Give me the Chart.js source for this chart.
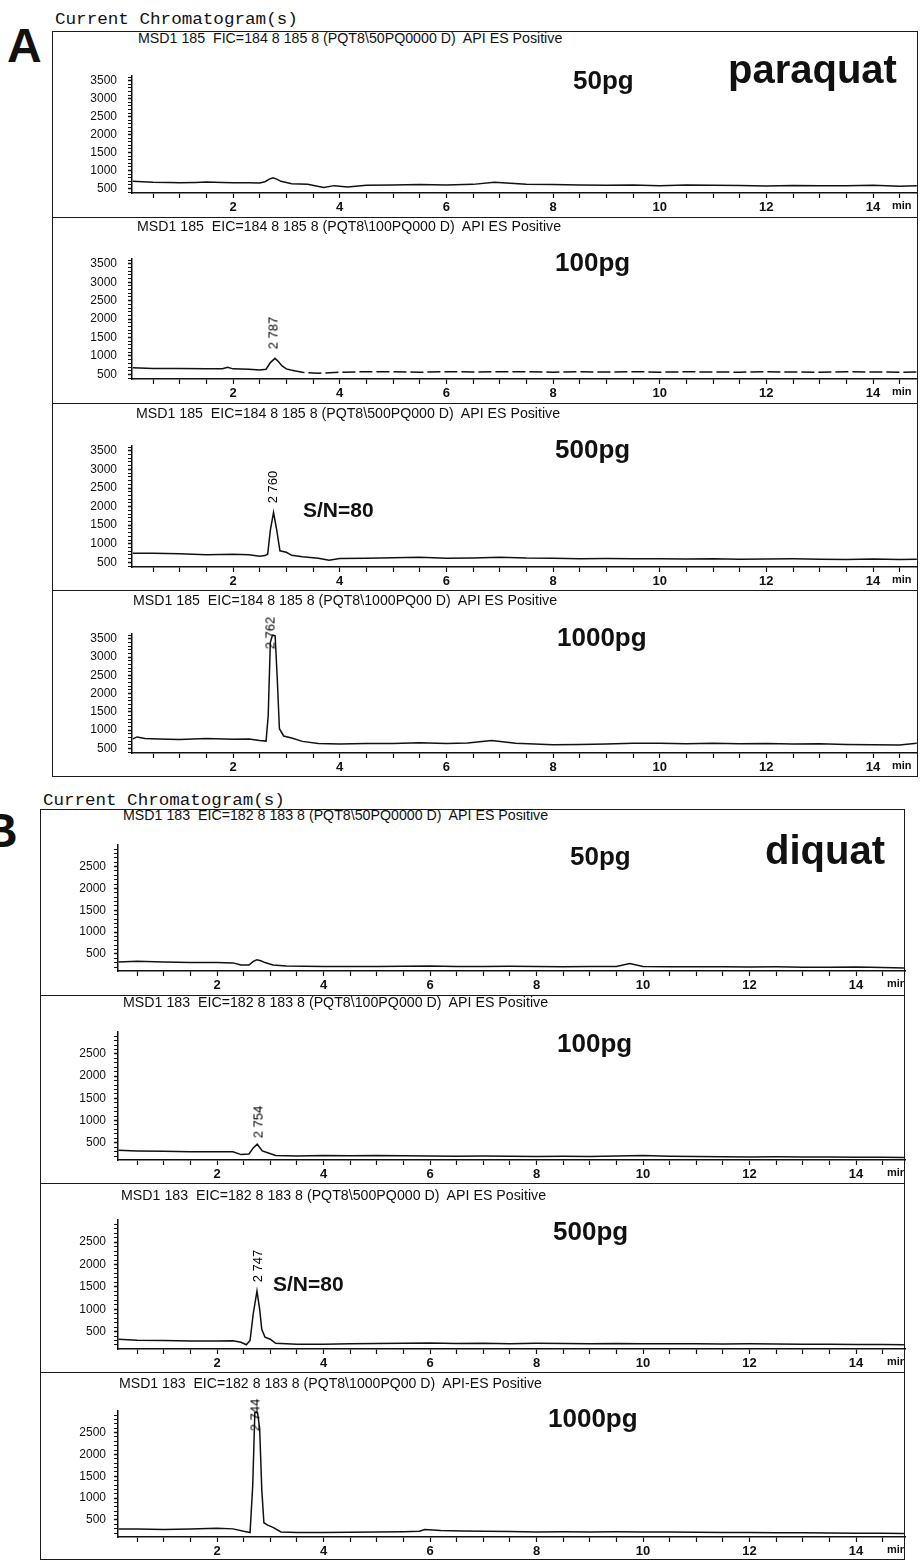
<!DOCTYPE html>
<html>
<head>
<meta charset="utf-8">
<script src="https://cdn.jsdelivr.net/npm/chart.js@4.4.0/dist/chart.umd.min.js"></script>
<style>
  html, body { margin: 0; padding: 0; background: #fff; }
  body { width: 920px; height: 1562px; position: relative; overflow: hidden; color: #111; }
  .abs { position: absolute; white-space: pre; line-height: 1; color: #111; }
  .box { position: absolute; border: 1.5px solid #1a1a1a; box-sizing: border-box; }
  .sep { position: absolute; height: 0; border-top: 1.5px solid #1a1a1a; }
  canvas { display: block; }
</style>
</head>
<body>
<script>
// tick labels
const xTickLabels = [2, 4, 6, 8, 10, 12, 14];
const yTickLabelsA = [500, 1000, 1500, 2000, 2500, 3000, 3500];
const yTickLabelsB = [500, 1000, 1500, 2000, 2500];

// A - paraquat (m/z 185), retention time in min / abundance
const timeA1 = [0.12, 0.3, 0.5, 0.8, 1.0, 1.3, 1.5, 1.8, 2.0, 2.3, 2.5, 2.6, 2.68, 2.75, 2.82, 2.9, 3.1, 3.4, 3.7, 3.9, 4.15, 4.5, 5.0, 5.5, 6.0, 6.5, 6.9, 7.5, 8.0, 8.5, 9.0, 9.5, 10.0, 10.5, 11.0, 11.5, 12.0, 12.5, 13.0, 13.5, 14.0, 14.5, 14.82];
const intA1 = [700, 690, 675, 665, 660, 670, 680, 665, 660, 660, 655, 690, 760, 800, 760, 700, 630, 620, 530, 580, 545, 590, 600, 610, 600, 615, 675, 620, 610, 600, 590, 600, 580, 595, 590, 585, 570, 585, 580, 575, 590, 560, 580];

const timeA2 = [0.12, 0.5, 1.0, 1.5, 1.8, 1.9, 2.0, 2.3, 2.5, 2.62, 2.7, 2.787, 2.85, 2.92, 3.0, 3.1, 3.3, 3.6, 4.0, 4.5, 5.0, 5.5, 6.0, 6.5, 7.0, 7.5, 8.0, 8.5, 9.0, 9.5, 10.0, 10.5, 11.0, 11.5, 12.0, 12.5, 13.0, 13.5, 14.0, 14.5, 14.82];
const intA2 = [677, 660, 660, 650, 655, 693, 650, 637, 620, 640, 820, 935, 850, 730, 650, 613, 557, 533, 557, 573, 573, 557, 573, 565, 575, 570, 560, 570, 565, 575, 560, 570, 565, 560, 570, 565, 560, 570, 565, 560, 565];

const timeA3 = [0.12, 0.5, 1.0, 1.5, 2.0, 2.3, 2.5, 2.6, 2.65, 2.7, 2.76, 2.82, 2.88, 3.0, 3.1, 3.3, 3.6, 3.8, 4.0, 4.5, 5.0, 5.5, 6.0, 6.5, 7.0, 7.5, 8.0, 8.5, 9.0, 9.5, 10.0, 10.5, 11.0, 11.5, 12.0, 12.5, 13.0, 13.5, 14.0, 14.5, 14.82];
const intA3 = [745, 745, 730, 707, 715, 707, 667, 683, 720, 1365, 1840, 1365, 810, 770, 690, 650, 610, 555, 603, 610, 627, 635, 610, 620, 640, 615, 610, 600, 605, 595, 600, 590, 600, 585, 590, 595, 585, 580, 590, 575, 585];

const timeA4 = [0.12, 0.2, 0.35, 0.6, 1.0, 1.5, 2.0, 2.3, 2.5, 2.62, 2.66, 2.7, 2.74, 2.79, 2.83, 2.87, 2.95, 3.1, 3.3, 3.6, 4.0, 4.5, 5.0, 5.5, 6.0, 6.4, 6.85, 7.3, 8.0, 8.5, 9.0, 9.5, 10.0, 10.5, 11.0, 11.5, 12.0, 12.5, 13.0, 13.5, 14.0, 14.5, 14.82];
const intA4 = [760, 815, 770, 760, 742, 773, 750, 760, 718, 700, 1400, 3400, 3600, 3580, 2400, 1040, 840, 783, 693, 637, 620, 637, 637, 656, 637, 650, 718, 640, 600, 610, 620, 640, 643, 630, 640, 625, 635, 620, 630, 610, 600, 595, 643];

// B - diquat (m/z 183)
const timeB1 = [0.15, 0.5, 1.0, 1.5, 2.0, 2.3, 2.45, 2.6, 2.68, 2.75, 2.82, 2.9, 3.05, 3.3, 4.0, 4.5, 5.0, 5.5, 6.0, 6.5, 7.0, 7.5, 8.0, 8.5, 9.0, 9.5, 9.75, 10.0, 10.5, 11.0, 11.5, 12.0, 12.5, 13.0, 13.5, 14.0, 14.5, 14.9];
const intB1 = [317, 332, 317, 303, 303, 296, 247, 247, 330, 367, 345, 303, 247, 226, 212, 215, 212, 220, 226, 215, 212, 218, 212, 208, 215, 212, 283, 212, 205, 210, 205, 200, 205, 198, 195, 200, 190, 178];

const timeB2 = [0.15, 0.5, 1.0, 1.5, 2.0, 2.3, 2.45, 2.6, 2.68, 2.754, 2.85, 2.95, 3.1, 3.5, 4.0, 4.5, 5.0, 5.5, 6.0, 6.5, 7.0, 7.5, 8.0, 8.5, 9.0, 9.5, 10.0, 10.5, 11.0, 11.5, 12.0, 12.5, 13.0, 13.5, 14.0, 14.5, 14.9];
const intB2 = [329, 315, 308, 294, 294, 294, 232, 246, 383, 466, 315, 273, 212, 198, 212, 205, 212, 205, 198, 195, 200, 192, 191, 195, 190, 200, 212, 195, 190, 185, 177, 185, 180, 175, 172, 170, 164];

const timeB3 = [0.15, 0.5, 1.0, 1.5, 2.0, 2.3, 2.45, 2.55, 2.62, 2.68, 2.75, 2.8, 2.84, 2.9, 3.0, 3.1, 3.5, 4.0, 4.5, 5.0, 5.5, 6.0, 6.5, 7.0, 7.5, 8.0, 8.5, 9.0, 9.5, 10.0, 10.5, 11.0, 11.5, 12.0, 12.5, 13.0, 13.5, 14.0, 14.5, 14.9];
const intB3 = [329, 308, 301, 288, 288, 295, 260, 205, 300, 900, 1406, 1000, 548, 376, 329, 239, 218, 218, 225, 232, 240, 246, 235, 240, 230, 239, 235, 230, 235, 225, 230, 228, 222, 225, 220, 215, 218, 210, 212, 205];

const timeB4 = [0.15, 0.5, 1.0, 1.5, 2.0, 2.3, 2.5, 2.62, 2.67, 2.71, 2.76, 2.8, 2.84, 2.88, 2.95, 3.05, 3.2, 3.5, 4.0, 4.5, 5.0, 5.5, 5.8, 5.9, 6.2, 6.6, 7.0, 7.5, 8.0, 8.5, 9.0, 9.5, 10.0, 10.5, 11.0, 11.5, 12.0, 12.5, 13.0, 13.5, 14.0, 14.5, 14.9];
const intB4 = [296, 296, 282, 296, 310, 296, 240, 212, 1280, 2960, 2960, 2600, 1200, 437, 380, 332, 226, 212, 212, 220, 226, 232, 240, 282, 261, 250, 240, 235, 226, 230, 225, 228, 222, 225, 218, 215, 212, 210, 205, 200, 198, 195, 191];

const headersA = [
  'MSD1 185  FIC=184 8 185 8 (PQT8\\50PQ0000 D)  API ES Positive',
  'MSD1 185  EIC=184 8 185 8 (PQT8\\100PQ000 D)  API ES Positive',
  'MSD1 185  EIC=184 8 185 8 (PQT8\\500PQ000 D)  API ES Positive',
  'MSD1 185  EIC=184 8 185 8 (PQT8\\1000PQ00 D)  API ES Positive'
];
const headersB = [
  'MSD1 183  EIC=182 8 183 8 (PQT8\\50PQ0000 D)  API ES Positive',
  'MSD1 183  EIC=182 8 183 8 (PQT8\\100PQ000 D)  API ES Positive',
  'MSD1 183  EIC=182 8 183 8 (PQT8\\500PQ000 D)  API ES Positive',
  'MSD1 183  EIC=182 8 183 8 (PQT8\\1000PQ00 D)  API-ES Positive'
];
const amounts = ['50pg', '100pg', '500pg', '1000pg'];

// layout (page pixels)
const SANS = "'Liberation Sans', Arial, sans-serif";
const MONO = "'Liberation Mono', 'Courier New', monospace";
const AXIS_W = 50, AXIS_H = 30, PAD_T = 4, PAD_R = 4;

const sections = {
  A: { xMin: 0.106, xMax: 14.825, yMin: 375, yMax: 3625, yLabels: yTickLabelsA, yPad: 11,
       box: [52, 31, 918, 777], seps: [217, 403, 590], minX: 892 },
  B: { xMin: 0.14, xMax: 14.92, yMin: 110, yMax: 2990, yLabels: yTickLabelsB, yPad: 8,
       box: [40, 809, 905, 1560], seps: [995, 1183, 1372], minX: 887 }
};

const panels = [
  { sec: 'A', t: timeA1, v: intA1, plot: [132, 62, 917, 193], head: [138, 38, 424], amt: [573, 89], rt: null },
  { sec: 'A', t: timeA2, v: intA2, plot: [132, 245, 917, 379], head: [137, 226, 424], amt: [555, 271], rt: ['2 787', 273, 333], dash: true },
  { sec: 'A', t: timeA3, v: intA3, plot: [132, 432, 917, 567], head: [136, 413, 424], amt: [555, 458], rt: ['2 760', 272, 487] },
  { sec: 'A', t: timeA4, v: intA4, plot: [132, 620, 917, 753], head: [133, 600, 424], amt: [557, 646], rt: ['2 762', 270, 633] },
  { sec: 'B', t: timeB1, v: intB1, plot: [118, 834, 905, 971], head: [123, 815, 425], amt: [570, 865], rt: null },
  { sec: 'B', t: timeB2, v: intB2, plot: [118, 1021, 905, 1160], head: [123, 1002, 425], amt: [557, 1052], rt: ['2 754', 258, 1122] },
  { sec: 'B', t: timeB3, v: intB3, plot: [118, 1209, 905, 1349], head: [121, 1195, 425], amt: [553, 1240], rt: ['2 747', 257, 1266] },
  { sec: 'B', t: timeB4, v: intB4, plot: [118, 1400, 905, 1537], head: [119, 1383, 423], amt: [548, 1427], rt: ['2 744', 255, 1415] }
];

function addText(txt, o) {
  const el = document.createElement('div');
  el.className = 'abs';
  el.textContent = txt;
  const fam = o.family || SANS;
  el.style.font = `${o.weight || 'normal'} ${o.size}px ${fam}`;
  el.style.lineHeight = '1';
  document.body.appendChild(el);
  const w = el.offsetWidth;
  const baseOff = fam === MONO ? 0.7665 : 0.8465;
  el.style.left = o.x + 'px';
  el.style.top = (o.base - baseOff * o.size) + 'px';
  el.style.transformOrigin = '0 0';
  if (o.width) el.style.transform = `scaleX(${o.width / w})`;
  if (o.clip) { el.style.width = o.clip + 'px'; el.style.overflow = 'hidden'; }
  return el;
}

function addVert(txt, cx, cy, size) {
  const el = document.createElement('div');
  el.className = 'abs';
  el.textContent = txt;
  el.style.font = `normal ${size}px ${SANS}`;
  el.style.color = '#000';
  el.style.left = cx + 'px';
  el.style.top = cy + 'px';
  el.style.transform = 'translate(-50%,-50%) rotate(-90deg)';
  document.body.appendChild(el);
}

function addDiv(cls, css) {
  const d = document.createElement('div');
  d.className = cls;
  d.style.cssText = css;
  document.body.appendChild(d);
}

// section frames
Object.values(sections).forEach(s => {
  const [l, t, r, b] = s.box;
  addDiv('box', `left:${l}px;top:${t}px;width:${r - l}px;height:${b - t}px;`);
  s.seps.forEach(y => addDiv('sep', `left:${l}px;top:${y}px;width:${r - l}px;`));
});

function makeChart(p) {
  const s = sections[p.sec];
  const [l, t, r, b] = p.plot;
  const W = AXIS_W + (r - l) + PAD_R;
  const H = PAD_T + (b - t) + AXIS_H;
  const wrap = document.createElement('div');
  wrap.style.cssText = `position:absolute;left:${l - AXIS_W}px;top:${t - PAD_T}px;width:${W}px;height:${H}px;`;
  const canvas = document.createElement('canvas');
  canvas.width = W;
  canvas.height = H;
  wrap.appendChild(canvas);
  document.body.appendChild(wrap);

  new Chart(canvas, {
    type: 'line',
    data: {
      datasets: [{
        data: p.t.map((x, i) => ({ x, y: p.v[i] })),
        borderColor: '#111',
        borderWidth: 1.5,
        pointRadius: 0,
        tension: 0,
        fill: false,
        segment: p.dash ? { borderDash: c => c.p0.parsed.x > 3.05 ? [13, 4] : undefined } : undefined
      }]
    },
    options: {
      responsive: false,
      animation: false,
      events: [],
      layout: { padding: { top: PAD_T, right: PAD_R, left: 0, bottom: 0 } },
      plugins: { legend: { display: false }, tooltip: { enabled: false } },
      scales: {
        x: {
          type: 'linear', min: s.xMin, max: s.xMax,
          afterFit: sc => { sc.height = AXIS_H; },
          border: { display: true, color: '#111', width: 1.5 },
          grid: { drawOnChartArea: false, tickLength: 5, tickColor: '#111', tickWidth: 1.2 },
          ticks: {
            stepSize: 0.5, autoSkip: false, includeBounds: false, maxRotation: 0, padding: 2,
            color: '#111', font: { family: SANS, size: 13, weight: 'bold' },
            callback: v => xTickLabels.includes(v) ? String(v) : ''
          }
        },
        y: {
          min: s.yMin, max: s.yMax,
          afterFit: sc => { sc.width = AXIS_W; },
          border: { display: true, color: '#111', width: 1.5 },
          grid: { drawOnChartArea: false, tickLength: 4, tickColor: '#111',
                  tickWidth: c => s.yLabels.includes(c.tick && c.tick.value) ? 1.5 : 1 },
          ticks: {
            stepSize: 100, autoSkip: false, includeBounds: false, padding: s.yPad,
            color: '#111', font: { family: SANS, size: 12 },
            callback: v => s.yLabels.includes(v) ? String(v) : ''
          }
        }
      }
    }
  });
}

panels.forEach((p, i) => {
  const s = sections[p.sec];
  makeChart(p);
  const hdr = (p.sec === 'A' ? headersA : headersB)[i % 4];
  addText(hdr, { x: p.head[0], base: p.head[1] + 5, size: 14, width: p.head[2] });
  addText(amounts[i % 4], { x: p.amt[0], base: p.amt[1], size: 26, weight: 'bold' });
  if (p.rt) addVert(p.rt[0], p.rt[1], p.rt[2], 13);
  const r = s.box[2];
  addText('min', { x: s.minX, base: p.plot[3] + 16, size: 11, weight: 'bold', clip: r - s.minX - 1 });
});

// section titles and compound names
addText('A', { x: 7, base: 63, size: 48, weight: 'bold' });
addText('B', { x: -17, base: 848, size: 48, weight: 'bold' });
addText('Current Chromatogram(s)', { x: 55, base: 24, size: 16, family: MONO, width: 243 });
addText('Current Chromatogram(s)', { x: 43, base: 805, size: 16, family: MONO, width: 242 });
addText('paraquat', { x: 728, base: 83, size: 40, weight: 'bold' });
addText('diquat', { x: 765, base: 864, size: 40, weight: 'bold' });
addText('S/N=80', { x: 303, base: 517, size: 21, weight: 'bold' });
addText('S/N=80', { x: 273, base: 1291, size: 21, weight: 'bold' });
</script>
</body>
</html>
